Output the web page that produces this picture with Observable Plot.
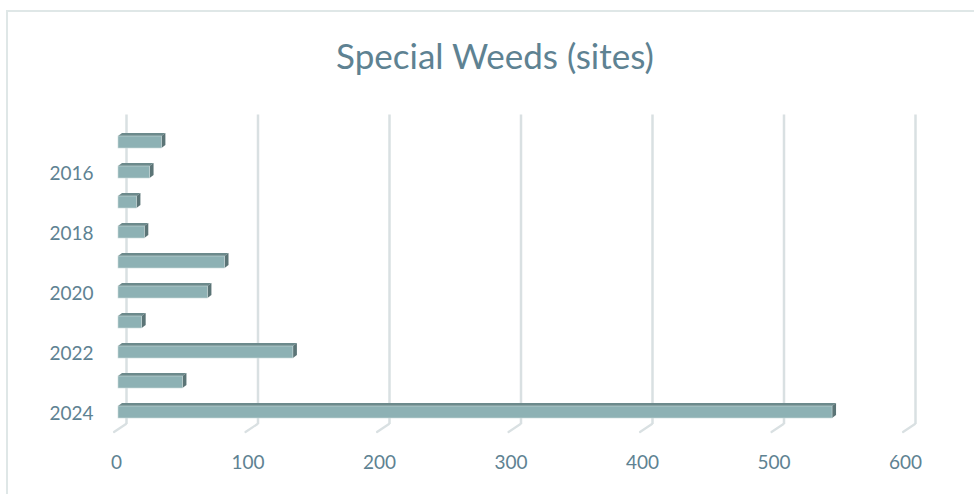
<!DOCTYPE html>
<html>
<head>
<meta charset="utf-8">
<script src="https://cdn.jsdelivr.net/npm/d3@7"></script>
<script src="https://cdn.jsdelivr.net/npm/@observablehq/plot@0.6"></script>
<style>
  html, body { margin: 0; padding: 0; background: #fff; overflow: hidden; width: 974px; height: 494px; }
  #frame { position: absolute; left: 6px; top: 10px; width: 1000px; height: 600px; border: 2px solid #dfe7e7; box-sizing: border-box; }
  #wrap { position: absolute; left: 0; top: 0; width: 974px; }
  #title { height: 90px; text-align: center; font-family: Lato, sans-serif; font-size: 35px; color: #5e8292; padding-left: 16px; box-sizing: border-box; padding-top: 21px; line-height: 76px; }
</style>
</head>
<body>
<div id="frame"></div>
<div id="wrap">
  <div id="title" style="height:90px;line-height:normal;padding-top:34px;">Special Weeds (sites)</div>
  <div id="chart"></div>
</div>
<script>
const years = [2015, 2016, 2017, 2018, 2019, 2020, 2021, 2022, 2023, 2024];
const sites = [33, 24, 14, 20, 81, 68, 18, 133, 49, 543];
const xTicks = [0, 100, 200, 300, 400, 500, 600];
const yLabels = [2016, 2018, 2020, 2022, 2024];

const data = years.map((y, i) => ({year: y, value: sites[i]}));

const textColor = "#5e8292";
const gridColor = "#d9e0e2";
const DX = 8;          // back-plane horizontal offset
const GRID_BOTTOM_INSET = 14.5;

const chart = Plot.plot({
  width: 974,
  height: 404,
  marginLeft: 118,
  marginRight: 67,
  marginTop: 24.5,
  marginBottom: 55.5,
  style: {fontFamily: "Lato, sans-serif", fontSize: "19px", color: textColor, background: "transparent"},
  x: {domain: [0, 600], axis: null},
  y: {domain: years, padding: 0.6, axis: null},
  marks: [
    // back-plane gridlines
    Plot.ruleX(xTicks, {x: d => d, dx: DX, stroke: gridColor, strokeWidth: 2.5, insetBottom: GRID_BOTTOM_INSET}),
    // diagonal floor ticks
    Plot.ruleX(xTicks, {
      x: d => d,
      render: (index, scales, values, dims) => {
        const g = d3.create("svg:g");
        const yb = dims.height - dims.marginBottom - GRID_BOTTOM_INSET;
        for (const i of index) {
          const x = scales.x(xTicks[i]);
          g.append("line")
            .attr("x1", x + DX).attr("y1", yb)
            .attr("x2", x - 4).attr("y2", yb + 8)
            .attr("stroke", gridColor).attr("stroke-width", 2.2)
            .attr("stroke-linecap", "round");
        }
        return g.node();
      }
    }),
    // 3D bars
    Plot.barX(data, {
      x: "value", y: "year", fill: "#8db1b4",
      render: (index, scales, values, dims, ctx, next) => {
        const g = d3.create("svg:g");
        const bw = scales.y.bandwidth();
        const dxs = 4, dys = 3;
        for (const i of index) {
          const d = data[i];
          const x0 = scales.x(0), x1 = scales.x(d.value);
          const y0 = scales.y(d.year), y1 = y0 + bw;
          g.append("polygon")
            .attr("points", [[x0, y0], [x0 + dxs, y0 - dys], [x1 + dxs, y0 - dys], [x1, y0]].join(" "))
            .attr("fill", "#6c8a8c");
          g.append("polygon")
            .attr("points", [[x1, y0], [x1 + dxs, y0 - dys], [x1 + dxs, y1 - dys], [x1, y1]].join(" "))
            .attr("fill", "#5b7476");
          g.append("rect")
            .attr("x", x0).attr("y", y0).attr("width", x1 - x0).attr("height", bw)
            .attr("fill", "#8db1b4").attr("stroke", "#c9d9da").attr("stroke-width", 0.6);
        }
        return g.node();
      }
    }),
    // y labels (even years only)
    Plot.text(yLabels, {y: d => d, text: d => String(d), frameAnchor: "left", textAnchor: "end", dx: -25, dy: 1, fill: textColor, fontSize: 19}),
    // x labels
    Plot.text(xTicks, {x: d => d, text: d => String(d), frameAnchor: "bottom", dy: 30, dx: -2, fill: textColor, fontSize: 19})
  ]
});
document.getElementById("chart").appendChild(chart);
</script>
</body>
</html>
